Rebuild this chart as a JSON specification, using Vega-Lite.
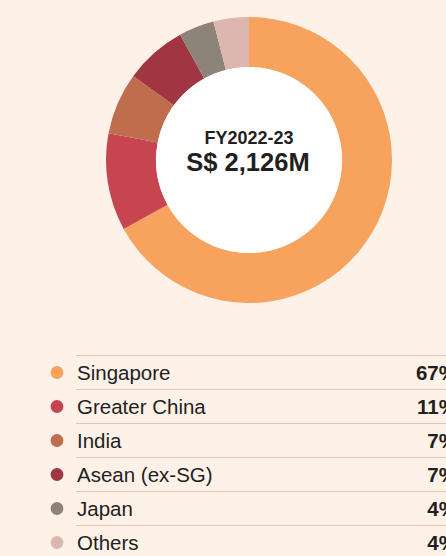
{
  "$schema": "https://vega.github.io/schema/vega-lite/v6.json",
  "width": 446,
  "height": 556,
  "autosize": {"type": "none"},
  "padding": 0,
  "background": "#FEF1E8",
  "config": {"view": {"stroke": null}, "font": "Liberation Sans"},
  "datasets": {
    "regions": [
      {"region": "Singapore", "share": 67, "label": "67%", "rank": 1},
      {"region": "Greater China", "share": 11, "label": "11%", "rank": 2},
      {"region": "India", "share": 7, "label": "7%", "rank": 3},
      {"region": "Asean (ex-SG)", "share": 7, "label": "7%", "rank": 4},
      {"region": "Japan", "share": 4, "label": "4%", "rank": 5},
      {"region": "Others", "share": 4, "label": "4%", "rank": 6}
    ],
    "center": [
      {"line": "FY2022-23", "kind": "period"},
      {"line": "S$ 2,126M", "kind": "total"}
    ]
  },
  "layer": [
    {
      "data": {"name": "regions"},
      "mark": {"type": "arc", "innerRadius": 93, "outerRadius": 143, "x": 249, "y": 160},
      "encoding": {
        "theta": {"field": "share", "type": "quantitative", "stack": true},
        "order": {"field": "rank", "type": "quantitative"},
        "color": {
          "field": "region", "type": "nominal", "legend": null,
          "scale": {
            "domain": ["Singapore", "Greater China", "India", "Asean (ex-SG)", "Japan", "Others"],
            "range": ["#F8A35D", "#C64550", "#BF6D4D", "#A03641", "#8D8378", "#DDB6AF"]
          }
        }
      }
    },
    {
      "data": {"values": [{"disc": "centre"}]},
      "mark": {"type": "arc", "innerRadius": 0, "outerRadius": 93, "theta": 6.2832, "fill": "#FFFFFF", "x": 249, "y": 160},
      "encoding": {}
    },
    {
      "data": {"name": "center"},
      "transform": [{"filter": "datum.kind === 'period'"}],
      "mark": {"type": "text", "x": 249, "y": 144, "baseline": "alphabetic", "align": "center", "fontSize": 18, "fontWeight": "bold", "color": "#231F20"},
      "encoding": {"text": {"field": "line"}}
    },
    {
      "data": {"name": "center"},
      "transform": [{"filter": "datum.kind === 'total'"}],
      "mark": {"type": "text", "x": 248, "y": 171, "baseline": "alphabetic", "align": "center", "fontSize": 25.5, "fontWeight": "bold", "color": "#231F20"},
      "encoding": {"text": {"field": "line"}}
    },
    {
      "data": {"name": "regions"},
      "mark": {"type": "rule", "x": 76, "x2": 446, "color": "#EBC4AD", "strokeWidth": 1},
      "encoding": {
        "y": {
          "field": "region", "type": "ordinal", "bandPosition": 0, "axis": null,
          "scale": {"type": "band", "domain": ["Singapore", "Greater China", "India", "Asean (ex-SG)", "Japan", "Others"], "range": [355.5, 559.5], "paddingInner": 0, "paddingOuter": 0}
        }
      }
    },
    {
      "data": {"name": "regions"},
      "mark": {"type": "point", "filled": true, "shape": "circle", "size": 165, "opacity": 1, "x": 57},
      "encoding": {
        "y": {
          "field": "region", "type": "ordinal", "bandPosition": 0.5, "axis": null,
          "scale": {"type": "band", "domain": ["Singapore", "Greater China", "India", "Asean (ex-SG)", "Japan", "Others"], "range": [355.5, 559.5], "paddingInner": 0, "paddingOuter": 0}
        },
        "color": {"field": "region", "type": "nominal", "legend": null}
      }
    },
    {
      "data": {"name": "regions"},
      "mark": {"type": "text", "x": 77, "align": "left", "baseline": "middle", "fontSize": 20.5, "color": "#231F20", "dy": 1},
      "encoding": {
        "y": {
          "field": "region", "type": "ordinal", "bandPosition": 0.5, "axis": null,
          "scale": {"type": "band", "domain": ["Singapore", "Greater China", "India", "Asean (ex-SG)", "Japan", "Others"], "range": [355.5, 559.5], "paddingInner": 0, "paddingOuter": 0}
        },
        "text": {"field": "region"}
      }
    },
    {
      "data": {"name": "regions"},
      "mark": {"type": "text", "x": 457, "align": "right", "baseline": "middle", "fontSize": 20.5, "fontWeight": "bold", "color": "#231F20", "dy": 1},
      "encoding": {
        "y": {
          "field": "region", "type": "ordinal", "bandPosition": 0.5, "axis": null,
          "scale": {"type": "band", "domain": ["Singapore", "Greater China", "India", "Asean (ex-SG)", "Japan", "Others"], "range": [355.5, 559.5], "paddingInner": 0, "paddingOuter": 0}
        },
        "text": {"field": "label"}
      }
    }
  ]
}
